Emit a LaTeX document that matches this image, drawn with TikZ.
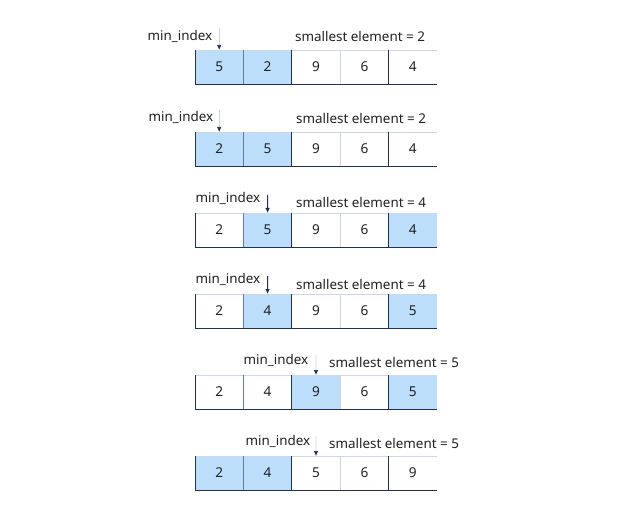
\documentclass[tikz,border=0pt]{standalone}
\usepackage{fontspec}
\setmainfont{Noto Sans}
\usetikzlibrary{arrows.meta}
\definecolor{cellblue}{RGB}{188,222,250}
\definecolor{navy}{RGB}{30,48,92}
\definecolor{midline}{RGB}{95,125,170}
\definecolor{lightline}{RGB}{205,215,230}
\definecolor{txt}{RGB}{34,34,34}
\tikzset{
  cell/.style={minimum width=48.4pt, minimum height=34pt, inner sep=0pt, outer sep=0pt, font=\fontsize{13.6}{15}\selectfont, text=txt},
  lbl/.style={inner sep=0pt, font=\fontsize{13.4}{15}\selectfont, text=txt},
  navyline/.style={draw=navy, line width=0.8pt},
  midl/.style={draw=midline, line width=0.7pt},
  lightl/.style={draw=lightline, line width=0.7pt},
  ptrdark/.style={draw=navy, line width=0.8pt, -{Latex[length=5pt,width=4.5pt]}},
  ptrlight/.style={draw=lightline, line width=0.7pt, -{Latex[length=5pt,width=4.5pt,color=navy]}},
}
\newcommand\arrayrow[3]{%
  \foreach \v/\f [count=\i] in {#3} {
    \node[cell, fill=\f] (#1c\i) at ({195+48.4*(\i-1)+24.2}, {#2+17}) {\v};
  }
  \draw[lightl] (#1c1.north west) -- (#1c5.north east);
  \draw[navyline] (#1c1.south west) -- (#1c5.south east);
  \draw[navyline] (#1c1.north west) -- (#1c1.south west);
  \draw[midl] (#1c1.north east) -- (#1c1.south east);
  \draw[navyline] (#1c2.north east) -- (#1c2.south east);
  \draw[lightl] (#1c3.north east) -- (#1c3.south east);
  \draw[navyline] (#1c4.north east) -- (#1c4.south east);
}
\begin{document}
\begin{tikzpicture}[x=1pt,y=-1pt]
\useasboundingbox[fill=white] (0,0) rectangle (624,513);
% row 1
\arrayrow{a}{50}{5/cellblue,2/cellblue,9/white,6/white,4/white}
\node[lbl] (ami) at (180,36) {min\_index};
\node[lbl, anchor=west] (asm) at (295,36) {smallest element = 2};
\coordinate (ap) at (219.2,28);
\draw[ptrlight] (ap) -- (ac1.north);
% row 2
\arrayrow{b}{132}{2/cellblue,5/cellblue,9/white,6/white,4/white}
\node[lbl] (bmi) at (181,117) {min\_index};
\node[lbl, anchor=west] (bsm) at (296,118) {smallest element = 2};
\coordinate (bp) at (219.2,110);
\draw[ptrlight] (bp) -- (bc1.north);
% row 3
\arrayrow{c}{213}{2/white,5/cellblue,9/white,6/white,4/cellblue}
\node[lbl] (cmi) at (228,198) {min\_index};
\node[lbl, anchor=west] (csm) at (296,202) {smallest element = 4};
\coordinate (cp) at (267.6,195);
\draw[ptrdark] (cp) -- (cc2.north);
% row 4
\arrayrow{d}{294}{2/white,4/cellblue,9/white,6/white,5/cellblue}
\node[lbl] (dmi) at (228,279) {min\_index};
\node[lbl, anchor=west] (dsm) at (296,284) {smallest element = 4};
\coordinate (dp) at (267.6,276);
\draw[ptrdark] (dp) -- (dc2.north);
% row 5
\arrayrow{e}{375}{2/white,4/white,9/cellblue,6/white,5/cellblue}
\node[lbl] (emi) at (276,360) {min\_index};
\node[lbl, anchor=west] (esm) at (329,362) {smallest element = 5};
\coordinate (ep) at (316,355);
\draw[ptrlight] (ep) -- (ec3.north);
% row 6
\arrayrow{f}{456}{2/cellblue,4/cellblue,5/white,6/white,9/white}
\node[lbl] (fmi) at (278,441) {min\_index};
\node[lbl, anchor=west] (fsm) at (329,443) {smallest element = 5};
\coordinate (fp) at (316,436);
\draw[ptrlight] (fp) -- (fc3.north);
\end{tikzpicture}
\end{document}
